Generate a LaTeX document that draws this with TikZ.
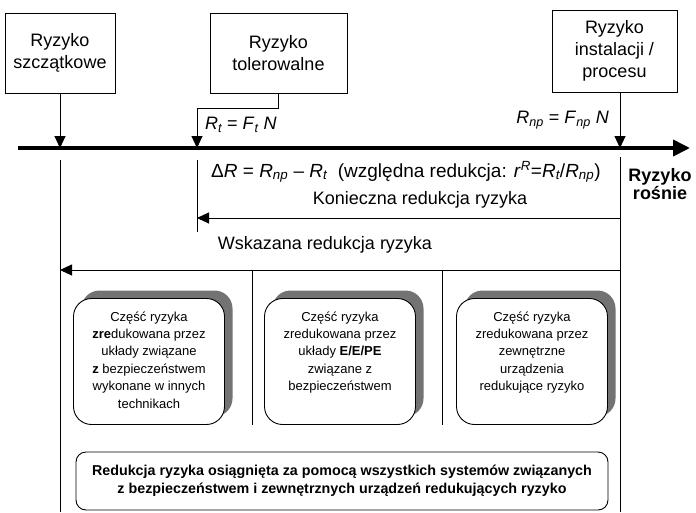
\documentclass[tikz,border=0pt]{standalone}
\usepackage{fontspec}
\setmainfont{Liberation Sans}
\usetikzlibrary{arrows.meta,shadows}

\newcommand{\idx}[1]{\textsubscript{\itshape #1}}
\newcommand{\partext}[1]{\parbox[c][106pt][t]{150pt}{\centering\vspace*{3pt}#1}}

\tikzset{
  wire/.style={line width=0.9pt},
  tip/.style={wire, -{Triangle[length=12pt,width=11pt]}},
  axis/.style={line width=3.8pt, -{Triangle[length=17pt,width=16pt]}},
  riskbox/.style={draw, wire, align=center, inner sep=0pt, minimum height=80pt,
    font=\fontsize{18}{22}\selectfont},
  partbox/.style={draw, wire, fill=white, rounded corners=18pt, inner sep=0pt,
    minimum width=151pt, minimum height=126pt, font=\fontsize{13}{17.4}\selectfont,
    drop shadow={shadow xshift=8pt, shadow yshift=8pt, fill=black!55, opacity=1}},
  sumbox/.style={draw, wire, rounded corners=10pt, align=center, inner sep=0pt,
    minimum width=532pt, minimum height=58pt,
    font=\fontsize{14.3}{18}\selectfont\bfseries},
  label/.style={font=\fontsize{18}{22}\selectfont, inner sep=0pt},
}

\begin{document}
\begin{tikzpicture}[x=1pt, y=-1pt]
        	\useasboundingbox (0,0) rectangle (696,512);
        	% Boxes on top:
        	\node[riskbox, minimum width=110pt] (res) at (60,53) {Ryzyko\\szczątkowe};
        	\node[riskbox, minimum width=137pt] (tol) at (278.5,53) {Ryzyko\\tolerowalne};
        	\node[riskbox, minimum width=125pt, minimum height=82pt] (inst) at (614.5,51) {Ryzyko\\instalacji /\\procesu};
        	% Axis and points on it:
        	\coordinate (axL) at (18,148);
        	\coordinate (axR) at (690,148);
        	\coordinate (tolK) at (197,108);
        	\coordinate (npX) at (620,0);
        	\draw[axis] (axL) -- (axR);
        	\draw[tip] (res.south) -- (res.south |- axL);
        	\draw[tip] (tol.south) |- (tolK) -- (tolK |- axL);
        	\draw[tip] (npX |- inst.south) -- (npX |- axL);
        	\node[label, anchor=west] (rt) at (205,125) {\textit{R}\idx{t} = \textit{F}\idx{t} \textit{N}};
        	\node[label, anchor=east] (rnp) at (609,120) {\textit{R}\idx{np} = \textit{F}\idx{np} \textit{N}};
        	\node[label, anchor=west, font=\fontsize{19}{22}\selectfont] (dr) at (211,172) {Δ\textit{R} = \textit{R}\idx{np} – \textit{R}\idx{t}\ \ (względna redukcja: \textit{r}\textsuperscript{\itshape R}=\textit{R}\idx{t}/\textit{R}\idx{np})};
        	\node[label, font=\fontsize{18}{18}\selectfont\bfseries, align=center] (up) at (660,184) {Ryzyko\\rośnie};
        	% Reduction lines:
        	\coordinate (lowL) at (60,160);
        	\coordinate (botL) at (60,512);
        	\coordinate (lowM) at (197,160);
        	\coordinate (endM) at (197,232);
        	\coordinate (lowR) at (620,157);
        	\coordinate (botR) at (620,512);
        	\coordinate (konR) at (620,218);
        	\coordinate (wskR) at (620,270);
        	\draw[wire] (lowL) -- (botL);
        	\draw[wire] (lowM) -- (endM);
        	\draw[wire] (lowR) -- (botR);
        	\draw[tip] (konR) -- (konR -| lowM);
        	\draw[tip] (wskR) -- (wskR -| lowL);
        	\node[label] (kon) at (420,200) {Konieczna redukcja ryzyka};
        	\node[label] (wsk) at (325,245) {Wskazana redukcja ryzyka};
        	% Parts of the reduction:
        	\coordinate (divA) at (252,270);
        	\coordinate (divB) at (442,270);
        	\draw[wire] (divA) -- ++(0,155);
        	\draw[wire] (divB) -- ++(0,155);
        	\node[partbox] (pa) at (149,361.5) {\partext{Część ryzyka\\\textbf{zre}dukowana przez\\układy związane\\\textbf{z} bezpieczeństwem\\wykonane w innych\\technikach}};
        	\node[partbox] (pb) at (340,361.5) {\partext{Część ryzyka\\zredukowana przez\\układy \textbf{E/E/PE}\\związane z\\bezpieczeństwem}};
        	\node[partbox] (pc) at (532,361.5) {\partext{Część ryzyka\\zredukowana przez\\zewnętrzne\\urządzenia\\redukujące ryzyko}};
        	\node[sumbox] (sum) at (342,481) {Redukcja ryzyka osiągnięta za pomocą wszystkich systemów związanych\\z bezpieczeństwem i zewnętrznych urządzeń redukujących ryzyko};
\end{tikzpicture}
\end{document}
